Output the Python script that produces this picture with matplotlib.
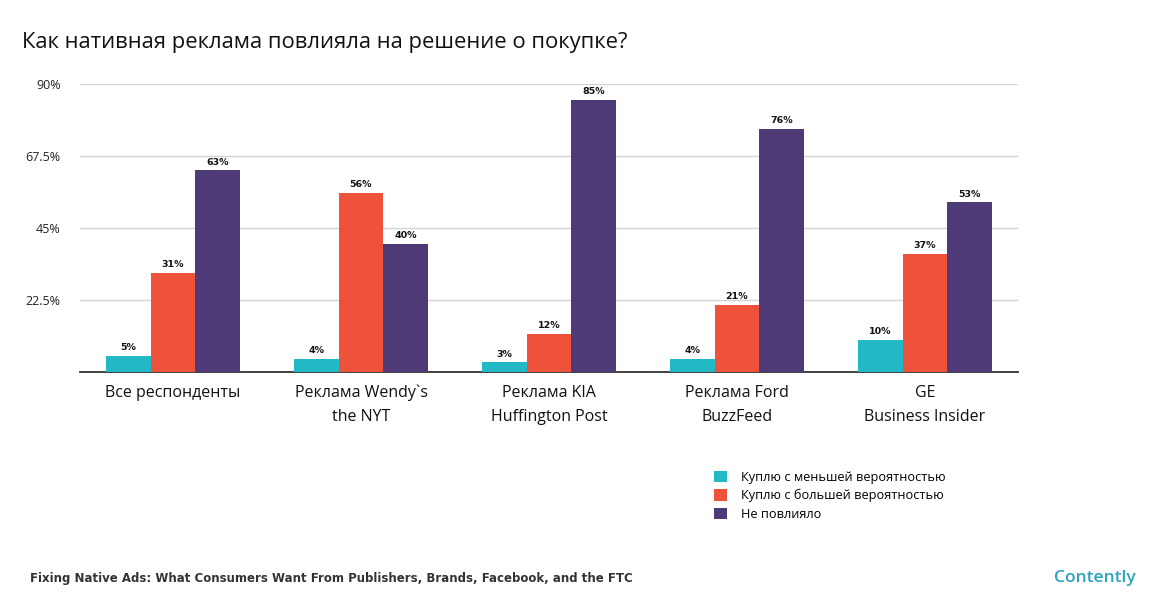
import numpy as np
import matplotlib
matplotlib.use("Agg")
import matplotlib.pyplot as plt
from matplotlib.patches import Patch

plt.rcParams['font.family'] = ['Open Sans', 'DejaVu Sans']

# data
categories = ["Все респонденты", "Реклама Wendy`s\nthe NYT", "Реклама KIA\nHuffington Post",
              "Реклама Ford\nBuzzFeed", "GE\nBusiness Insider"]
less_likely = [5, 4, 3, 4, 10]
more_likely = [31, 56, 12, 21, 37]
no_effect = [63, 40, 85, 76, 53]
series_names = ["Куплю с меньшей вероятностью", "Куплю с большей вероятностью", "Не повлияло"]
colors = ["#22B8C5", "#EF523B", "#4F3A78"]
yticks = [22.5, 45, 67.5, 90]
ytick_labels = ["22.5%", "45%", "67.5%", "90%"]

fig = plt.figure(figsize=(11.65, 6.08), dpi=100)
ax = fig.add_axes([0.0687, 0.388, 0.805, 0.474])

x = np.arange(len(categories))
w = 0.237
series = [less_likely, more_likely, no_effect]
for i, (vals, c) in enumerate(zip(series, colors)):
    pos = x + (i - 1) * w
    ax.bar(pos, vals, width=w, color=c, zorder=3)
    for p, v in zip(pos, vals):
        ax.text(p, v + 1.2, f"{v}%", ha='center', va='bottom', fontsize=6.8,
                fontweight='bold', color='#111111', family='DejaVu Sans')

ax.set_xlim(-0.495, 4.495)
ax.set_ylim(0, 90)
ax.set_yticks(yticks)
ax.set_yticklabels(ytick_labels, fontsize=9, color='#222222')
ax.grid(axis='y', color='#d4d4d4', linewidth=1, zorder=0)
ax.tick_params(axis='y', length=0, pad=14)
ax.set_xticks(x)
ax.set_xticklabels(categories, fontsize=11.5, linespacing=1.7, color='#111111')
ax.tick_params(axis='x', length=0, pad=9)
for s in ['top', 'right', 'left']:
    ax.spines[s].set_visible(False)
ax.spines['bottom'].set_color('#333333')
ax.spines['bottom'].set_linewidth(1.3)

fig.text(0.019, 0.93, "Как нативная реклама повлияла на решение о покупке?",
         fontsize=15.8, color='#111111', va='center')

handles = [Patch(facecolor=c, label=n) for c, n in zip(colors, series_names)]
fig.legend(handles=handles, loc='upper left', bbox_to_anchor=(0.603, 0.245),
           frameon=False, fontsize=9.2, handlelength=1.0, handleheight=1.0,
           handletextpad=1.1, labelspacing=0.42)

fig.text(0.026, 0.049, "Fixing Native Ads: What Consumers Want From Publishers, Brands, Facebook, and the FTC",
         fontsize=8.45, fontweight='bold', color='#333333', va='center', family='DejaVu Sans')
fig.text(0.975, 0.049, "Contently", fontsize=12.5, fontweight='semibold', color='#2aa4bd',
         ha='right', va='center')

fig.savefig("out.png", dpi=100)
